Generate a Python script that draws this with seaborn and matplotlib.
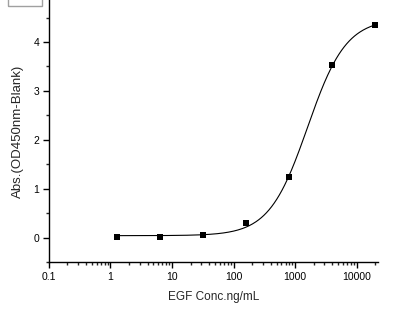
import matplotlib
matplotlib.use('Agg')
import matplotlib.pyplot as plt
from matplotlib.patches import Rectangle
from matplotlib.ticker import LogLocator, NullFormatter, FixedLocator, MultipleLocator
import numpy as np
import pandas as pd
import seaborn as sns

# data
conc = [1.28, 6.4, 32, 160, 800, 4000, 20000]
absorb = [0.02, 0.01, 0.05, 0.29, 1.24, 3.53, 4.34]
x_ticks = [0.1, 1, 10, 100, 1000, 10000]
x_tick_labels = ["0.1", "1", "10", "100", "1000", "10000"]
y_ticks = [0, 1, 2, 3, 4]


def four_pl(p, x):
    bottom, top, log_ec50, hill = p
    return bottom + (top - bottom) / (1 + (x / 10 ** log_ec50) ** (-hill))


def fit_four_pl(x, y, p0, n_iter=200):
    # small Levenberg-Marquardt on the 4PL model
    p = np.array(p0, dtype=float)
    lam = 1e-2
    for _ in range(n_iter):
        r = y - four_pl(p, x)
        J = np.zeros((len(x), len(p)))
        for i in range(len(p)):
            dp = np.zeros_like(p)
            dp[i] = 1e-6 * max(1.0, abs(p[i]))
            J[:, i] = (four_pl(p + dp, x) - four_pl(p, x)) / dp[i]
        A = J.T @ J
        g = J.T @ r
        step = np.linalg.solve(A + lam * np.diag(np.diag(A)), g)
        new_p = p + step
        if np.sum((y - four_pl(new_p, x)) ** 2) < np.sum(r ** 2):
            p = new_p
            lam *= 0.5
        else:
            lam *= 4
    return p


x_arr = np.array(conc, dtype=float)
y_arr = np.array(absorb, dtype=float)
params = fit_four_pl(x_arr, y_arr, [0.02, 4.5, np.log10(1500), 1.3])

x_fit = np.logspace(np.log10(conc[0]), np.log10(conc[-1]), 300)
fit_df = pd.DataFrame({"conc": x_fit, "absorb": four_pl(params, x_fit)})
pts_df = pd.DataFrame({"conc": conc, "absorb": absorb})

sns.set_style("ticks")
plt.rcParams['font.family'] = ['Liberation Sans', 'DejaVu Sans']

fig = plt.figure(figsize=(4.01, 3.23), dpi=100)
ax = fig.add_axes([0.122, 0.189, 0.820, 0.811])

sns.lineplot(data=fit_df, x="conc", y="absorb", ax=ax, color='black',
             linewidth=0.8, estimator=None, sort=False)
sns.scatterplot(data=pts_df, x="conc", y="absorb", ax=ax, marker='s',
                color='black', s=14, edgecolor='black', linewidth=0, zorder=3)

ax.set_xscale('log')
ax.set_xlim(0.1, 22000)
ax.set_ylim(-0.5, 4.86)
ax.xaxis.set_major_locator(FixedLocator(x_ticks))
ax.set_xticklabels(x_tick_labels)
ax.xaxis.set_minor_locator(LogLocator(base=10, subs=np.arange(2, 10), numticks=20))
ax.xaxis.set_minor_formatter(NullFormatter())
ax.set_yticks(y_ticks)
ax.yaxis.set_minor_locator(MultipleLocator(0.5))

for side in ['top', 'right']:
    ax.spines[side].set_visible(False)
for side in ['left', 'bottom']:
    ax.spines[side].set_linewidth(1.0)
    ax.spines[side].set_color('black')
ax.tick_params(axis='both', which='major', length=4, width=1, labelsize=7.5,
               colors='black', direction='out', pad=3)
ax.tick_params(axis='both', which='minor', length=2, width=1, direction='out')

ax.set_xlabel("EGF Conc.ng/mL", fontsize=8.5, labelpad=7)
ax.set_ylabel("Abs.(OD450nm-Blank)", fontsize=9.5, labelpad=7)

# clipped legend frame in the top-left corner
fig.patches.append(Rectangle((8 / 401, 1 - 6 / 323), 34 / 401, 10 / 323,
                             transform=fig.transFigure, fill=False,
                             edgecolor='#a0a0a0', linewidth=1.0))

fig.savefig("out.png", dpi=100)
